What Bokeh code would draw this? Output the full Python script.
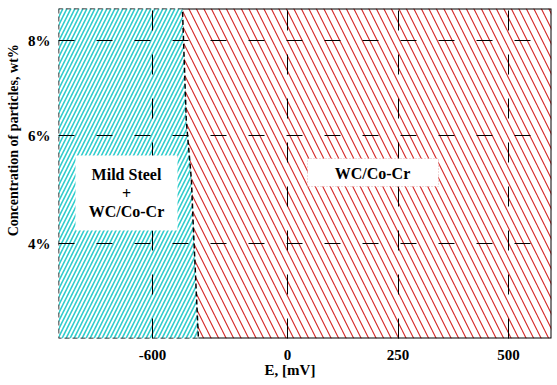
import numpy as np
from bokeh.plotting import figure
from bokeh.models import Range1d, FixedTicker, Label, BoxAnnotation
from bokeh.embed import file_html
from bokeh.resources import INLINE

# ---------------- data ----------------
e_ticks = [-600, 0, 250, 500]
e_tick_labels = ["-600", "0", "250", "500"]
conc_ticks = [4, 6, 8]
conc_tick_labels = ["4%", "6%", "8%"]
e_limits = [-1018, 597]          # E extent of the chart, mV
conc_limits = [2.24, 8.67]       # concentration extent, wt%
boundary_conc = [8.67, 6.32, 5.17, 4.24, 2.24]   # wt%
boundary_e = [-467, -450, -427, -418, -396]      # mV
region_names = [["Mild Steel", "+", "WC/Co-Cr"], ["WC/Co-Cr"]]
x_title = "E, [mV]"
y_title = "Concentration of particles, wt%"

# ---------------- axis scales (piecewise linear, as drawn) ----------------
E_KNOTS = [e_limits[0], 0, e_limits[1]]
E_POS = [0, 229, 493]
C_KNOTS = [conc_limits[0], 4, 6, 8, conc_limits[1]]
C_POS = [0, 95, 203, 298, 330]


def ex(e):
    return np.interp(e, E_KNOTS, E_POS)


def cy(c):
    return np.interp(c, C_KNOTS, C_POS)


FONT = "Liberation Serif"
CYAN = "#30CCCC"
RED = "#CC0000"
NBSP = "\u00a0"

p = figure(width=557, height=385, output_backend="svg", toolbar_location=None,
           x_range=Range1d(ex(e_limits[0]), ex(e_limits[1])),
           y_range=Range1d(cy(conc_limits[0]), cy(conc_limits[1])),
           min_border_left=58, min_border_right=6, min_border_top=8,
           min_border_bottom=47)
p.outline_line_color = None
p.background_fill_color = "white"

bx = list(ex(boundary_e))
by = list(cy(boundary_conc))
x0, x1 = ex(e_limits[0]), ex(e_limits[1])
y0, y1 = cy(conc_limits[0]), cy(conc_limits[1])

# WC/Co-Cr region (red hatch)
red_x = bx + [x1, x1]
red_y = by + [y0, y1]
p.patch(red_x, red_y, fill_color="white", line_color=None,
        hatch_pattern="\\", hatch_color=RED, hatch_scale=15, hatch_weight=1.1,
        hatch_alpha=0.85)

# Mild steel + WC/Co-Cr region (cyan hatch)
cyan_x = [x0, x0] + bx[::-1]
cyan_y = [y1, y0] + by[::-1]
p.patch(cyan_x, cyan_y, fill_color="white", line_color=None,
        hatch_pattern="/", hatch_color=CYAN, hatch_scale=8, hatch_weight=1.6)
p.patch(cyan_x, cyan_y, fill_color=None, line_color="black",
        line_dash="5 3", line_width=1.5)

# solid frame around the red region
p.line([bx[0], x1, x1, bx[-1]], [by[0], y1, y0, by[-1]],
       line_color="black", line_width=2)

# axes
xt = [round(float(v), 3) for v in ex(e_ticks)]
yt = [round(float(v), 3) for v in cy(conc_ticks)]
xticker = FixedTicker(ticks=xt)
yticker = FixedTicker(ticks=yt)
p.xaxis.ticker = xticker
p.yaxis.ticker = yticker
p.xgrid.ticker = xticker
p.ygrid.ticker = yticker
p.xaxis.major_label_overrides = {t: l for t, l in zip(xt, e_tick_labels)}
p.yaxis.major_label_overrides = {t: l for t, l in zip(yt, conc_tick_labels)}

for ax in (p.xaxis[0], p.yaxis[0]):
    ax.axis_line_color = None
    ax.major_tick_line_color = None
    ax.minor_tick_line_color = None
    ax.major_tick_out = 0
    ax.major_tick_in = 0
    ax.minor_tick_out = 0
    ax.minor_tick_in = 0
    ax.major_label_text_font = FONT
    ax.major_label_text_font_style = "bold"
    ax.major_label_text_font_size = "15px"
    ax.major_label_text_color = "black"
    ax.axis_label_text_font = FONT
    ax.axis_label_text_font_style = "bold"
    ax.axis_label_text_color = "black"
p.xaxis.major_label_standoff = 11
p.yaxis.major_label_standoff = 8

# axis titles (padded so they sit where the source places them)
p.xaxis.axis_label = x_title + NBSP * 8
p.xaxis.axis_label_text_font_size = "15px"
p.xaxis.axis_label_standoff = -1
p.yaxis.axis_label = NBSP * 19 + y_title
p.yaxis.axis_label_text_font_size = "14px"
p.yaxis.axis_label_standoff = 4

p.xgrid.grid_line_dash = "20 24"
p.ygrid.grid_line_dash = "16 22"
for g in (p.xgrid[0], p.ygrid[0]):
    g.grid_line_color = "black"
    g.grid_line_width = 1
    g.level = "annotation"

# region boxes
p.add_layout(BoxAnnotation(left=17, right=119, bottom=108, top=183,
                           fill_color="white", fill_alpha=1, line_color=None))
p.add_layout(BoxAnnotation(left=249, right=380, bottom=152, top=180,
                           fill_color="white", fill_alpha=1, line_color="#990000",
                           line_dash="1 2", line_width=1))

lab_kw = dict(text_font=FONT, text_font_style="bold", text_font_size="16px",
              text_align="center", text_baseline="middle", text_color="black")
for txt, yy in zip(region_names[0], [164, 145, 127]):
    p.add_layout(Label(x=68, y=yy, text=txt, **lab_kw))
p.add_layout(Label(x=314, y=165, text=region_names[1][0], **lab_kw))

open("out.html", "w").write(file_html(p, INLINE))
